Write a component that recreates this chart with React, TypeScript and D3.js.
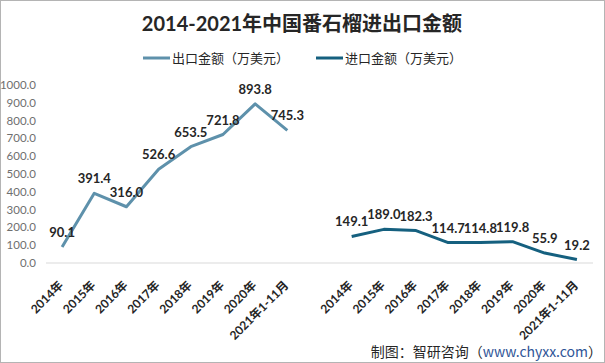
import * as d3 from "d3";

const categories = ["2014年", "2015年", "2016年", "2017年", "2018年", "2019年", "2020年", "2021年1-11月"];
const exportValues = [90.1, 391.4, 316.0, 526.6, 653.5, 721.8, 893.8, 745.3];
const importValues = [149.1, 189.0, 182.3, 114.7, 114.8, 119.8, 55.9, 19.2];
const yTicks = [0, 100, 200, 300, 400, 500, 600, 700, 800, 900, 1000];

const W = 605;
const H = 363;
const EXPORT_COLOR = "#5e91ab";
const IMPORT_COLOR = "#15607f";
const LABEL_FONT = "Lato, 'Noto Sans CJK SC', sans-serif";
const CJK_FONT = "'Noto Sans CJK SC', sans-serif";

// export slots, one empty slot, then import slots
const slots = [
  ...categories.map((_, i) => `e${i}`),
  "gap",
  ...categories.map((_, i) => `i${i}`),
];

export default function App() {
  const x = d3.scaleBand().domain(slots).range([46, 593]);
  const y = d3.scaleLinear().domain([0, 1000]).range([263, 85]);
  const cx = (k: string) => (x(k) ?? 0) + x.bandwidth() / 2;

  const line = d3
    .line<[number, number]>()
    .x((d) => d[0])
    .y((d) => d[1]);

  const exportPts: [number, number][] = exportValues.map((v, i) => [cx(`e${i}`), y(v)]);
  const importPts: [number, number][] = importValues.map((v, i) => [cx(`i${i}`), y(v)]);

  const axisY = y(0);

  return (
    <svg
      width={W}
      height={H}
      style={{ position: "fixed", left: 0, top: 0, background: "#fff" }}
    >
      <rect x={0.5} y={0.5} width={W - 1} height={H - 1} fill="#fff" stroke="#b4b4b4" />

      {/* title */}
      <text
        x={302}
        y={31}
        textAnchor="middle"
        fontFamily={LABEL_FONT}
        fontWeight="bold"
        fontSize={20}
        fill="#262626"
      >
        2014-2021年中国番石榴进出口金额
      </text>

      {/* legend */}
      <g fontFamily={CJK_FONT} fontSize={13} fill="#262626">
        <line x1={143} x2={170} y1={58} y2={58} stroke={EXPORT_COLOR} strokeWidth={3} />
        <text x={172} y={62.5}>出口金额（万美元）</text>
        <line x1={316} x2={343} y1={58} y2={58} stroke={IMPORT_COLOR} strokeWidth={3} />
        <text x={345} y={62.5}>进口金额（万美元）</text>
      </g>

      {/* y axis labels */}
      <g fontFamily={LABEL_FONT} fontSize={11.5} fill="#6f6f6f" textAnchor="end">
        {yTicks.map((t) => (
          <text key={t} x={36} y={y(t)} dy="0.35em">
            {t.toFixed(1)}
          </text>
        ))}
      </g>

      {/* x axis */}
      <line x1={46} x2={593} y1={axisY} y2={axisY} stroke="#d9d9d9" strokeWidth={1} />
      <g fontFamily={LABEL_FONT} fontSize={12} fontWeight="bold" fill="#262626" textAnchor="end">
        {slots
          .filter((k) => k !== "gap")
          .map((k) => {
            const label = categories[+k.slice(1)];
            const px = cx(k) - 1;
            const py = axisY + 20;
            return (
              <text key={k} transform={`translate(${px},${py}) rotate(-45)`} dy="0.35em">
                {label}
              </text>
            );
          })}
      </g>

      {/* lines */}
      <path d={line(exportPts) ?? ""} fill="none" stroke={EXPORT_COLOR} strokeWidth={3} strokeLinejoin="round" />
      <path d={line(importPts) ?? ""} fill="none" stroke={IMPORT_COLOR} strokeWidth={3} strokeLinejoin="round" />

      {/* data labels */}
      <g fontFamily={LABEL_FONT} fontSize={13} fontWeight="bold" fill="#262626" textAnchor="middle">
        {exportPts.map((p, i) => (
          <text key={`el${i}`} x={p[0]} y={p[1] - 10}>
            {exportValues[i].toFixed(1)}
          </text>
        ))}
        {importPts.map((p, i) => (
          <text key={`il${i}`} x={p[0]} y={p[1] - 10}>
            {importValues[i].toFixed(1)}
          </text>
        ))}
      </g>

      {/* source */}
      <text x={602} y={357} textAnchor="end" fontFamily={CJK_FONT} fontSize={14} fill="#262626">
        制图：智研咨询（<tspan fill="#2f5597">www.chyxx.com</tspan>）
      </text>
    </svg>
  );
}
